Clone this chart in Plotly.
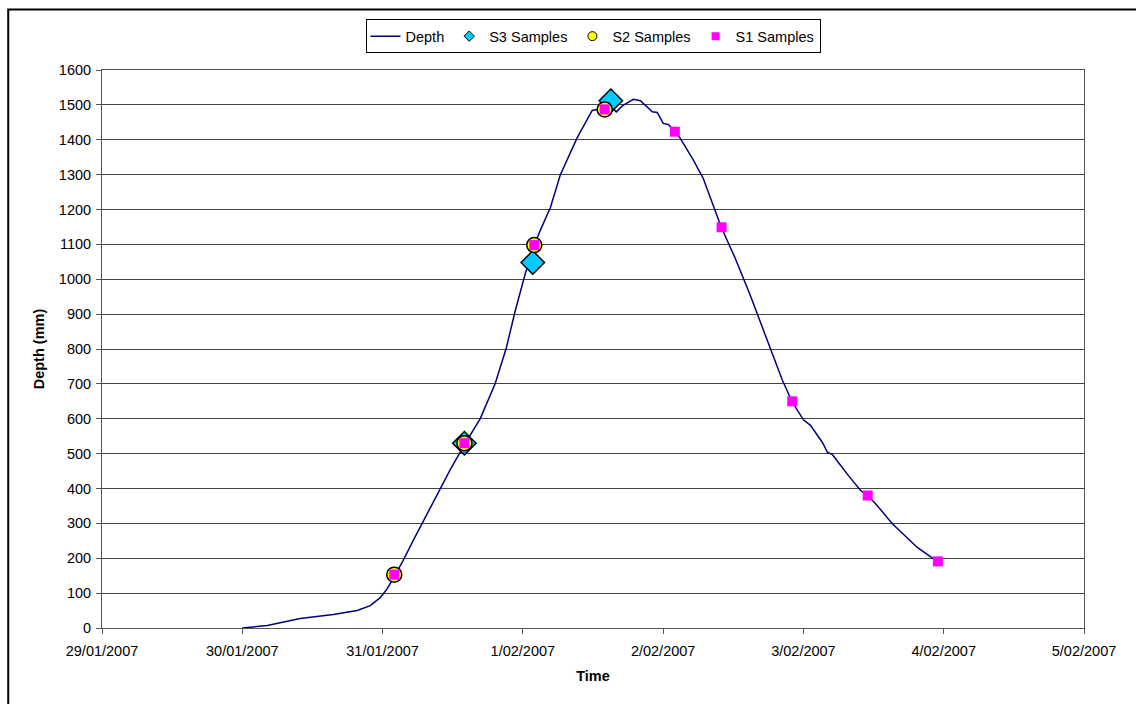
import plotly.graph_objects as go

# Depth hydrograph
depth_time = [
    "2007-01-30 00:00", "2007-01-30 04:17", "2007-01-30 09:54", "2007-01-30 15:34",
    "2007-01-30 19:40", "2007-01-30 21:54", "2007-01-30 23:36", "2007-01-31 00:48",
    "2007-01-31 01:49", "2007-01-31 03:32", "2007-01-31 05:15", "2007-01-31 08:10",
    "2007-01-31 11:36", "2007-01-31 14:10", "2007-01-31 16:44", "2007-01-31 19:17",
    "2007-01-31 21:10", "2007-01-31 22:43", "2007-02-01 00:26", "2007-02-01 01:58",
    "2007-02-01 03:00", "2007-02-01 04:42", "2007-02-01 06:24", "2007-02-01 09:18",
    "2007-02-01 11:52", "2007-02-01 13:14", "2007-02-01 14:40", "2007-02-01 16:00",
    "2007-02-01 17:01", "2007-02-01 18:54", "2007-02-01 20:06", "2007-02-01 22:09",
    "2007-02-01 23:00", "2007-02-02 00:01", "2007-02-02 00:53", "2007-02-02 02:05",
    "2007-02-02 02:56", "2007-02-02 05:09", "2007-02-02 06:52", "2007-02-02 09:57",
    "2007-02-02 12:20", "2007-02-02 14:54", "2007-02-02 17:28", "2007-02-02 20:23",
    "2007-02-02 22:05", "2007-02-03 00:00", "2007-02-03 01:12", "2007-02-03 03:15",
    "2007-02-03 04:06", "2007-02-03 04:58", "2007-02-03 07:42", "2007-02-03 09:45",
    "2007-02-03 10:57", "2007-02-03 12:19", "2007-02-03 15:13", "2007-02-03 18:48",
    "2007-02-03 19:29", "2007-02-03 22:13", "2007-02-03 23:04",
]
depth_mm = [
    0, 7, 27, 39,
    50, 64, 87, 113,
    142, 194, 251, 345,
    455, 530, 601, 702,
    803, 911, 1017, 1098,
    1141, 1205, 1299, 1406,
    1484, 1488, 1500, 1480,
    1497, 1516, 1512, 1480,
    1478, 1447, 1444, 1423,
    1404, 1342, 1289, 1149,
    1060, 954, 840, 711,
    648, 597, 581, 532,
    504, 497, 437, 395,
    380, 357, 299, 242,
    231, 199, 191,
]

s3_time = ["2007-01-31 14:00", "2007-02-01 01:42", "2007-02-01 15:03"]
s3_depth = [530, 1048, 1512]

s2_time = ["2007-01-31 02:00", "2007-01-31 14:00", "2007-02-01 01:57", "2007-02-01 14:00"]
s2_depth = [153, 530, 1098, 1487]

s1_time = ["2007-01-31 02:00", "2007-01-31 14:00", "2007-02-01 01:57", "2007-02-01 14:00",
           "2007-02-02 02:00", "2007-02-02 10:00", "2007-02-02 22:05", "2007-02-03 11:00",
           "2007-02-03 23:00"]
s1_depth = [153, 530, 1098, 1487, 1423, 1149, 650, 380, 191]

series_names = ["Depth", "S3 Samples", "S2 Samples", "S1 Samples"]

line_style = dict(color="#000080", width=1.5)
s3_marker = dict(symbol="diamond", color="#00CCFF", line=dict(color="black", width=1.5))
s2_marker = dict(symbol="circle", color="#FFFF00", line=dict(color="black", width=1.5))
s1_marker = dict(symbol="square", color="#FF00FF", line=dict(width=0))

fig = go.Figure()
fig.add_trace(go.Scatter(x=depth_time, y=depth_mm, mode="lines", name=series_names[0],
                         line=line_style, legendgroup="d"))
fig.add_trace(go.Scatter(x=s3_time, y=s3_depth, mode="markers", name=series_names[1],
                         marker=dict(size=18, **s3_marker), showlegend=False, legendgroup="s3"))
fig.add_trace(go.Scatter(x=s2_time, y=s2_depth, mode="markers", name=series_names[2],
                         marker=dict(size=15, **s2_marker), showlegend=False, legendgroup="s2"))
fig.add_trace(go.Scatter(x=s1_time, y=s1_depth, mode="markers", name=series_names[3],
                         marker=dict(size=10, **s1_marker), showlegend=False, legendgroup="s1"))
# legend-only entries with small symbols, as in the original legend
fig.add_trace(go.Scatter(x=[None], y=[None], mode="markers", name=series_names[1],
                         marker=dict(size=8, **{**s3_marker, "line": dict(color="black", width=1)}),
                         legendgroup="s3"))
fig.add_trace(go.Scatter(x=[None], y=[None], mode="markers", name=series_names[2],
                         marker=dict(size=9, **{**s2_marker, "line": dict(color="black", width=1)}),
                         legendgroup="s2"))
fig.add_trace(go.Scatter(x=[None], y=[None], mode="markers", name=series_names[3],
                         marker=dict(size=8, **s1_marker), legendgroup="s1"))

font = "Liberation Sans, Arial, sans-serif"
fig.update_layout(
    width=1136, height=704,
    margin=dict(l=102, r=52, t=70, b=76, pad=0),
    paper_bgcolor="white", plot_bgcolor="white",
    font=dict(family=font, size=14.5, color="black"),
    showlegend=True,
    legend=dict(orientation="h", x=0.5, xanchor="center", y=1.091, yanchor="top",
                bordercolor="black", borderwidth=1, bgcolor="white",
                font=dict(size=14.5, family=font), itemwidth=30,
                tracegroupgap=0),
    xaxis=dict(
        type="date",
        range=["2007-01-29", "2007-02-05"],
        dtick=86400000, tick0="2007-01-29",
        tickformat="%-d/%m/%Y",
        showgrid=False, zeroline=False,
        showline=True, linecolor="#555", linewidth=1, mirror=True,
        ticks="outside", ticklen=5, tickcolor="#555", ticklabelstandoff=5,
        title=dict(text="<b>Time</b>", font=dict(size=14.5, family=font), standoff=12),
    ),
    yaxis=dict(
        range=[0, 1600], dtick=100,
        showgrid=True, gridcolor="#444", gridwidth=1, zeroline=False,
        showline=True, linecolor="#555", linewidth=1, mirror=True,
        ticks="outside", ticklen=5, tickcolor="#555", ticklabelstandoff=2,
        title=dict(text="<b>Depth (mm)</b>", font=dict(size=14.5, family=font), standoff=10),
    ),
    shapes=[dict(type="rect", xref="paper", yref="paper",
                 x0=-0.0955, x1=1.065, y0=-0.16, y1=1.1085,
                 line=dict(color="black", width=2), fillcolor="rgba(0,0,0,0)",
                 layer="below")],
)

fig.write_html("out.html")
